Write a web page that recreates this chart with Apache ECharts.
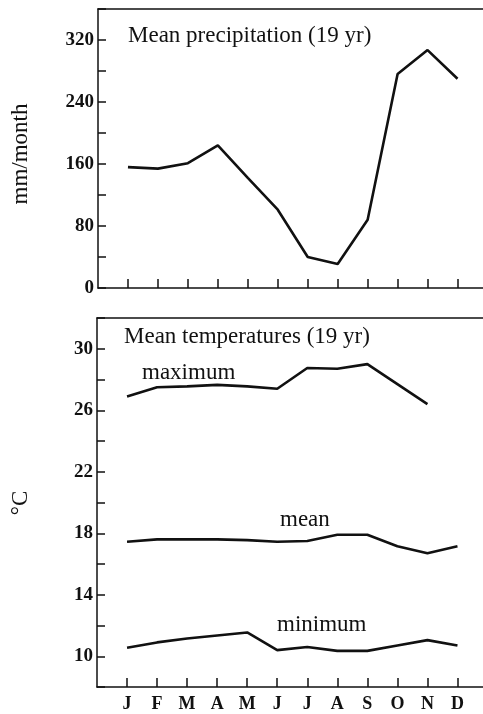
<!DOCTYPE html>
<html>
<head>
<meta charset="utf-8">
<style>
  html, body { margin: 0; padding: 0; background: #fff; }
  #chart { width: 483px; height: 714px; }
</style>
<script src="https://cdn.jsdelivr.net/npm/echarts@6/dist/echarts.min.js"></script>
</head>
<body>
<div id="chart"></div>
<script>
// Monthly climate summary: precipitation and temperatures (19-year means)
const months = ['J', 'F', 'M', 'A', 'M', 'J', 'J', 'A', 'S', 'O', 'N', 'D'];
const precipitation = [156, 154, 161, 184, 142, 101, 40, 31, 88, 276, 307, 270];
const tempMaximum = [26.9, 27.5, 27.55, 27.65, 27.55, 27.4, 28.75, 28.7, 29.0, 27.7, 26.4, null];
const tempMean = [17.45, 17.6, 17.6, 17.6, 17.55, 17.45, 17.5, 17.9, 17.9, 17.15, 16.7, 17.15];
const tempMinimum = [10.55, 10.9, 11.15, 11.35, 11.55, 10.4, 10.6, 10.35, 10.35, 10.7, 11.05, 10.7];
const precipLabels = [0, 80, 160, 240, 320];
const tempLabels = [10, 14, 18, 22, 26, 30];

const INK = '#111';
const SERIF = '"Liberation Serif", "DejaVu Serif", serif';
// month axis runs from one step before January to just past December (open right side)
const X_MIN = -1;
const X_MAX = 11.85;
const monthIndex = months.map((_, i) => i);

const pairs = arr => arr.map((v, i) => [i, v]);

function xAxisFor(grid, withLabels) {
  return {
    type: 'value', gridIndex: grid, min: X_MIN, max: X_MAX,
    axisLine: { show: true, onZero: false, lineStyle: { color: INK, width: 1.5 } },
    axisTick: {
      show: true, inside: true, length: 9, customValues: monthIndex,
      lineStyle: { color: INK, width: 1.5 }
    },
    axisLabel: {
      show: withLabels, margin: 8, color: INK, fontFamily: SERIF, fontWeight: 'bold', fontSize: 18,
      customValues: monthIndex,
      formatter: v => months[Math.round(v)] || ''
    },
    splitLine: { show: false }
  };
}

function topBorder(grid) {
  return {
    type: 'value', gridIndex: grid, position: 'top', min: X_MIN, max: X_MAX,
    axisLine: { show: true, onZero: false, lineStyle: { color: INK, width: 1.5 } },
    axisTick: { show: false }, axisLabel: { show: false }, splitLine: { show: false }
  };
}

function yAxisFor(grid, min, max, step, labels) {
  return {
    type: 'value', gridIndex: grid, min: min, max: max, interval: step,
    axisLine: { show: true, onZero: false, lineStyle: { color: INK, width: 1.5 } },
    axisTick: { show: true, inside: true, length: 8, lineStyle: { color: INK, width: 1.5 } },
    axisLabel: {
      margin: 4, color: INK, fontFamily: SERIF, fontWeight: 'bold', fontSize: 19,
      formatter: v => (labels.indexOf(v) >= 0 ? String(v) : '')
    },
    splitLine: { show: false }
  };
}

function lineSeries(x, y, data) {
  return {
    type: 'line', xAxisIndex: x, yAxisIndex: y, data: pairs(data),
    symbol: 'none', connectNulls: false, silent: true,
    lineStyle: { color: INK, width: 2.6 }
  };
}

function note(text, x, y, rotate) {
  return {
    type: 'text', x: x, y: y, rotation: rotate || 0,
    style: {
      text: text, fill: INK, font: '23px ' + SERIF,
      align: rotate ? 'center' : 'left', verticalAlign: 'middle'
    }
  };
}

const chart = echarts.init(document.getElementById('chart'), null, { renderer: 'canvas' });
chart.setOption({
  animation: false,
  backgroundColor: '#fff',
  grid: [
    { left: 98, right: 0, top: 9, height: 279 },
    { left: 97, right: 0, top: 318, height: 369 }
  ],
  xAxis: [xAxisFor(0, false), xAxisFor(1, true), topBorder(0), topBorder(1)],
  yAxis: [
    yAxisFor(0, 0, 360, 40, precipLabels),
    yAxisFor(1, 8, 32, 2, tempLabels)
  ],
  series: [
    lineSeries(0, 0, precipitation),
    lineSeries(1, 1, tempMaximum),
    lineSeries(1, 1, tempMean),
    lineSeries(1, 1, tempMinimum)
  ],
  graphic: [
    note('Mean precipitation (19 yr)', 128, 36),
    note('Mean temperatures (19 yr)', 124, 337),
    note('maximum', 142, 373),
    note('mean', 280, 520),
    note('minimum', 277, 625),
    note('mm/month', 21, 154, Math.PI / 2),
    note('°C', 21, 503, Math.PI / 2)
  ]
});
</script>
</body>
</html>
